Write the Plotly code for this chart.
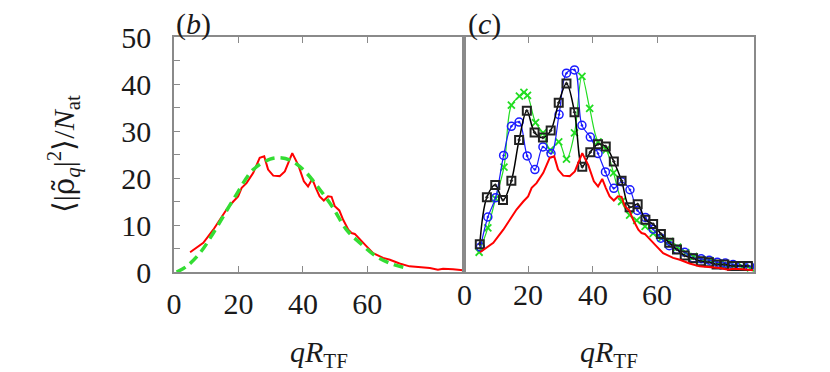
import plotly.graph_objects as go

# червона крива (однакова в обох панелях)
red_x = [5.0, 8.1, 9.1, 12.2, 16.3, 18.4, 19.9, 21.0, 22.5, 24.6, 26.6, 28.0, 29.2, 30.8, 32.8,
         34.4, 36.7, 38.6, 40.3, 41.6, 42.9, 44.0, 45.2, 46.5, 47.8, 48.9, 49.9, 51.3, 52.5,
         54.1, 55.1, 56.1, 58.2, 59.7, 61.8, 64.9, 67.0, 70.0, 73.1, 76.3, 79.4, 81.9, 83.5,
         86.6, 89.7]
red_y = [4.2, 5.8, 6.2, 9.0, 13.3, 15.0, 16.1, 17.9, 18.9, 21.1, 24.3, 24.6, 21.8, 20.5, 20.4,
         21.4, 25.3, 22.7, 19.3, 18.2, 19.8, 17.9, 16.1, 15.2, 16.1, 16.0, 14.0, 13.1, 11.1,
         9.0, 8.3, 8.1, 6.7, 5.5, 4.0, 3.0, 2.6, 1.8, 1.2, 1.0, 0.85, 0.5, 0.7, 0.6, 0.35]

# зелена пунктирна (теорія)
fit_x = [0.8, 3.9, 8.0, 12.2, 18.4, 24.6, 29.8, 32.9, 36.0, 40.1, 45.3, 49.4, 53.5, 57.7,
         62.8, 68.0, 72.7]
fit_y = [0.0, 1.2, 4.0, 8.3, 15.4, 21.8, 24.0, 24.3, 23.8, 21.8, 17.5, 13.6, 9.0, 6.2,
         3.3, 1.6, 0.8]

# сині кружки
blue_x = [5.1, 7.4, 9.8, 12.3, 14.7, 17.1, 19.6, 22.0, 24.5, 27.0, 29.5, 31.8, 34.3, 36.6,
          39.2, 41.6, 43.9, 46.5, 48.9, 51.5, 53.8, 56.3, 58.7, 61.1, 63.7, 66.1, 68.5,
          71.1, 73.6, 76.1, 78.6, 81.1, 83.5, 86.1, 88.7]
blue_y = [5.3, 11.7, 15.8, 24.8, 31.0, 31.9, 24.7, 21.8, 26.6, 25.2, 33.5, 42.3, 43.0, 31.2,
          28.7, 25.2, 21.3, 17.8, 19.2, 17.5, 13.1, 11.6, 9.1, 7.2, 5.6, 4.8, 4.2,
          3.0, 2.8, 2.5, 2.1, 1.9, 1.6, 1.3, 1.2]

# зелені хрестики
grn_x = [4.7, 7.4, 9.8, 12.4, 14.7, 17.2, 18.6, 19.7, 22.2, 24.5, 26.8, 29.4, 31.8, 34.3,
         36.6, 39.0, 41.6, 44.1, 46.4, 48.9, 51.4, 53.6, 56.2, 58.7, 61.3, 63.9, 66.3,
         68.8, 71.3, 73.7, 76.3, 78.9, 81.2, 83.8, 86.4, 88.9]
grn_y = [4.2, 9.4, 15.6, 22.3, 35.5, 37.4, 38.2, 37.6, 31.8, 29.6, 26.0, 27.7, 24.0, 29.6,
         41.6, 34.8, 27.7, 26.0, 21.1, 15.0, 12.1, 11.0, 9.7, 8.2, 7.2, 6.5, 5.3,
         4.1, 3.3, 2.7, 2.4, 1.9, 1.6, 1.3, 1.1, 0.9]

# чорні квадрати
blk_x = [4.9, 7.1, 9.7, 12.1, 14.7, 17.1, 19.5, 21.9, 24.5, 26.9, 29.4, 31.8, 34.3, 36.7,
         39.2, 41.6, 44.0, 46.5, 48.9, 51.4, 53.9, 56.3, 58.7, 61.1, 63.7, 66.1, 68.5,
         71.1, 73.5, 76.0, 78.4, 80.8, 83.2, 85.6, 88.1]
blk_y = [5.9, 15.9, 18.5, 15.3, 19.4, 28.1, 34.3, 29.7, 28.6, 30.1, 36.0, 40.1, 34.0, 22.4,
         25.5, 27.2, 26.7, 23.5, 19.4, 13.8, 14.4, 11.1, 10.2, 8.1, 6.2, 4.8, 3.5,
         2.9, 2.3, 2.1, 1.6, 1.6, 1.3, 1.3, 1.3]

yticks = list(range(0, 51, 5))
ylabels = [str(v) if v % 10 == 0 else "" for v in yticks]
xticks = [0, 20, 40, 60]

SERIF = "Liberation Serif"
FRAME = "#8a8a8a"
TXT = "#1a1a1a"
FS = 30

fig = go.Figure()

# панель (b)
fig.add_trace(go.Scatter(x=red_x, y=red_y, mode="lines", line=dict(color="#ff0000", width=2),
                         xaxis="x", yaxis="y"))
fig.add_trace(go.Scatter(x=fit_x, y=fit_y, mode="lines", line_shape="spline",
                         line=dict(color="#33dd33", width=3.5, dash="10px,6px"),
                         xaxis="x", yaxis="y"))

# панель (c)
fig.add_trace(go.Scatter(x=grn_x, y=grn_y, mode="lines+markers", line_shape="spline",
                         line=dict(color="#22dd22", width=1.2),
                         marker=dict(symbol="x-thin-open", size=7,
                                     line=dict(color="#22dd22", width=1.8)),
                         xaxis="x2", yaxis="y2"))
fig.add_trace(go.Scatter(x=blue_x, y=blue_y, mode="lines+markers", line_shape="spline",
                         line=dict(color="#1a1aff", width=1.2),
                         marker=dict(symbol="circle-open-dot", size=8, color="#1a1aff",
                                     line=dict(color="#1a1aff", width=1.5)),
                         xaxis="x2", yaxis="y2"))
fig.add_trace(go.Scatter(x=blk_x, y=blk_y, mode="lines+markers", line_shape="spline",
                         line=dict(color="black", width=1.5),
                         marker=dict(symbol="square-open-dot", size=8, color="#222222",
                                     line=dict(color="#222222", width=2)),
                         xaxis="x2", yaxis="y2"))
fig.add_trace(go.Scatter(x=red_x, y=red_y, mode="lines", line=dict(color="#ff0000", width=2),
                         xaxis="x2", yaxis="y2"))

xcommon = dict(range=[0, 90], tickvals=xticks, ticks="inside", ticklen=6, tickcolor=FRAME,
               tickwidth=1.2, mirror="allticks", showline=True, linecolor=FRAME, linewidth=1.5,
               showgrid=False, zeroline=False, automargin=False, ticklabelstandoff=4,
               tickfont=dict(family=SERIF, size=FS, color=TXT))
ycommon = dict(range=[0, 50], showline=True, linecolor=FRAME, linewidth=1.5, mirror=True,
               showgrid=False, zeroline=True, zerolinecolor="black", zerolinewidth=1.5,
               automargin=False)

# сторінка має відступ 8px, тому фігура трохи менша за вікно
fig.update_layout(
    width=822, height=364,
    margin=dict(l=166, r=76, t=29, b=100),
    paper_bgcolor="white", plot_bgcolor="white",
    showlegend=False,
    xaxis=dict(domain=[0, 0.5], anchor="y", **xcommon),
    xaxis2=dict(domain=[0.5, 1], anchor="y2", showticklabels=False, **xcommon),
    yaxis=dict(anchor="x", tickvals=yticks, ticktext=ylabels, ticks="inside", ticklen=6,
               tickcolor=FRAME, tickwidth=1.2, ticklabelstandoff=15,
               tickfont=dict(family=SERIF, size=FS, color=TXT), **ycommon),
    yaxis2=dict(anchor="x2", showticklabels=False, ticks="", **ycommon),
)

# підписи 0,20,40,60 для панелі (c)
for v in xticks:
    fig.add_annotation(x=v, y=0, xref="x2", yref="y2", text=str(v), showarrow=False,
                       xanchor="center", yanchor="top", yshift=-4,
                       font=dict(family=SERIF, size=FS, color=TXT))

title_font = dict(family=SERIF, size=FS, color=TXT)
for xc in [0.25, 0.75]:
    fig.add_annotation(x=xc, y=-0.26, xref="paper", yref="paper", showarrow=False,
                       text="<i>qR</i><sub>TF</sub>", xanchor="center", yanchor="top",
                       font=title_font)
fig.add_annotation(x=-0.19, y=0.5, xref="paper", yref="paper", showarrow=False, textangle=-90,
                   xanchor="center", yanchor="middle",
                   text="⟨|<span style='font-family:DejaVu Serif'>ρ̃</span>"
                        "<sub><i>q</i></sub>|<sup>2</sup>⟩/<i>N</i><sub>at</sub>",
                   font=title_font)
fig.add_annotation(x=0.0, y=1.0, xref="paper", yref="paper", showarrow=False, text="(<i>b</i>)",
                   xanchor="left", yanchor="bottom", yshift=-6, font=title_font)
fig.add_annotation(x=0.5, y=1.0, xref="paper", yref="paper", showarrow=False, text="(<i>c</i>)",
                   xanchor="left", yanchor="bottom", xshift=2, yshift=-6, font=title_font)

fig.write_html("out.html")
